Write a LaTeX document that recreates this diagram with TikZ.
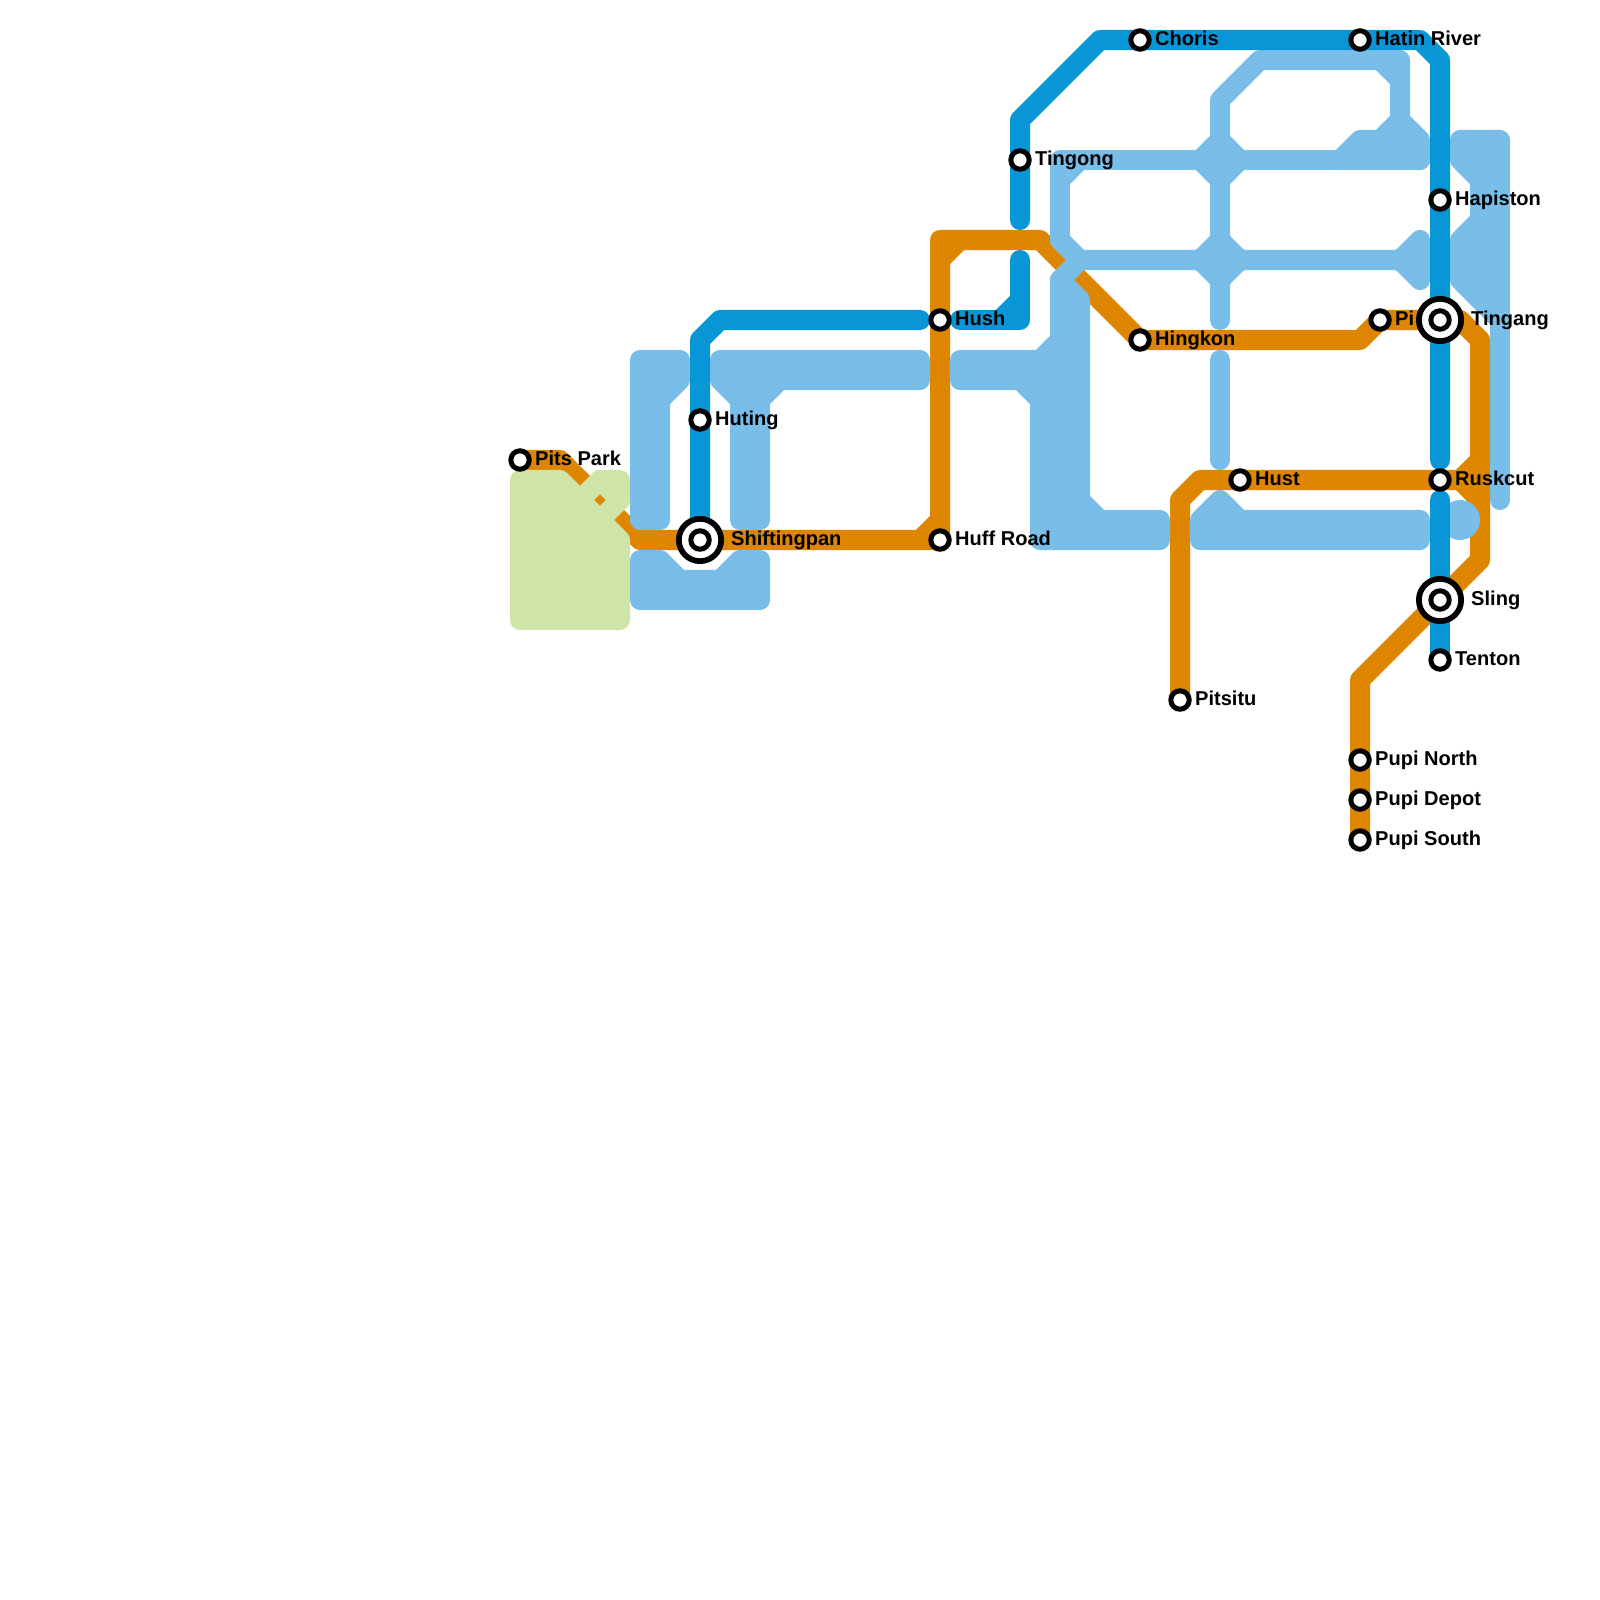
\documentclass[tikz,border=0pt]{standalone}
\usepackage{fontspec}
\setmainfont{Liberation Sans}
\usepackage{xcolor}
\usetikzlibrary{backgrounds}
\definecolor{orangeroute}{HTML}{DF8600}
\definecolor{blueroute}{HTML}{0896D7}
\definecolor{waterblue}{HTML}{79BDE9}
\definecolor{parkgreen}{HTML}{CFE4A7}
\tikzset{
  % Station styles
  station/.style={circle, draw=black, fill=white, line width=0.05cm, minimum size=0.184cm, inner sep=0pt},
  bigstation/.style={circle, draw=black, fill=white, line width=0.057cm, minimum size=0.423cm, inner sep=0pt},
  stoplabel/.style={anchor=base west, inner sep=0pt, xshift=0.145cm, yshift=-0.05cm, font=\fontsize{5.7pt}{6pt}\selectfont\bfseries},
  bigstoplabel/.style={stoplabel, xshift=0.16cm},
  % Route styles
  orangeline/.style={draw=orangeroute, line width=0.2cm, line cap=round, line join=round},
  blueline/.style={draw=blueroute, line width=0.2cm, line cap=round, line join=round},
  % Map area styles
  water/.style={draw=waterblue, line width=0.2cm, line cap=round, line join=round},
  waterarea/.style={water, fill=waterblue},
  park/.style={draw=parkgreen, line width=0.2cm, line cap=round, line join=round},
  parkarea/.style={park, fill=parkgreen},
}
\begin{document}
\begin{tikzpicture}[x=0.01cm, y=-0.01cm]
    \useasboundingbox (0,0) rectangle (1600,1600);

    % Stations on the west side
    \node[station] (pits) at (520,460) {};
    \node[stoplabel] (pitslabel) at (pits.center) {Pits Park};
    \node[station] (huting) at (700,420) {};
    \node[stoplabel] (hutinglabel) at (huting.center) {Huting};
    \node[bigstation] (shiftingpan) at (700,540) {};
    \node[station] (shiftingpancore) at (shiftingpan.center) {};
    \node[bigstoplabel] (shiftingpanlabel) at (shiftingpan.center) {Shiftingpan};

    % Stations in the middle
    \node[station] (hush) at (940,320) {};
    \node[stoplabel] (hushlabel) at (hush.center) {Hush};
    \node[station] (huffroad) at (940,540) {};
    \node[stoplabel] (huffroadlabel) at (huffroad.center) {Huff Road};
    \node[station] (tingong) at (1020,160) {};
    \node[stoplabel] (tingonglabel) at (tingong.center) {Tingong};
    \node[station] (choris) at (1140,40) {};
    \node[stoplabel] (chorislabel) at (choris.center) {Choris};
    \node[station] (hingkon) at (1140,340) {};
    \node[stoplabel] (hingkonlabel) at (hingkon.center) {Hingkon};
    \node[station] (pitsitu) at (1180,700) {};
    \node[stoplabel] (pitsitulabel) at (pitsitu.center) {Pitsitu};
    \node[station] (hust) at (1240,480) {};
    \node[stoplabel] (hustlabel) at (hust.center) {Hust};

    % Stations on the east side
    \node[station] (hatin) at (1360,40) {};
    \node[stoplabel] (hatinlabel) at (hatin.center) {Hatin River};
    \node[station] (hapiston) at (1440,200) {};
    \node[stoplabel] (hapistonlabel) at (hapiston.center) {Hapiston};
    \node[station] (pi) at (1380,320) {};
    \node[stoplabel] (pilabel) at (pi.center) {Pi};
    \node[bigstation] (tingang) at (1440,320) {};
    \node[station] (tingangcore) at (tingang.center) {};
    \node[bigstoplabel] (tinganglabel) at (tingang.center) {Tingang};
    \node[station] (ruskcut) at (1440,480) {};
    \node[stoplabel] (ruskcutlabel) at (ruskcut.center) {Ruskcut};
    \node[bigstation] (sling) at (1440,600) {};
    \node[station] (slingcore) at (sling.center) {};
    \node[bigstoplabel] (slinglabel) at (sling.center) {Sling};
    \node[station] (tenton) at (1440,660) {};
    \node[stoplabel] (tentonlabel) at (tenton.center) {Tenton};

    % Pupi branch
    \node[station] (pupinorth) at (1360,760) {};
    \node[stoplabel] (pupinorthlabel) at (pupinorth.center) {Pupi North};
    \node[station] (pupidepot) at (1360,800) {};
    \node[stoplabel] (pupidepotlabel) at (pupidepot.center) {Pupi Depot};
    \node[station] (pupisouth) at (1360,840) {};
    \node[stoplabel] (pupisouthlabel) at (pupisouth.center) {Pupi South};

    % Free ends of the blue routes
    \coordinate (tingongend) at (1020,220);
    \coordinate (hushstart) at (960,320);
    \coordinate (hushend) at (1020,260);
    \coordinate (hutingend) at (920,320);
    \coordinate (ruskcutnorth) at (1440,460);
    \coordinate (ruskcutsouth) at (1440,500);

\begin{scope}[on background layer]
    % === Orange routes ===
    \draw[orangeline] (pits.center) -- (560,460) -- (640,540) -- (shiftingpan.center) -- (huffroad.center)
      -- (hush.center) -- (940,240) -- (1040,240) -- (hingkon.center) -- (1360,340) -- (pi.center)
      -- (tingang.center) -- (1460,320) -- (1480,340) -- (1480,560) -- (sling.center) -- (1360,680)
      -- (pupinorth.center) -- (pupidepot.center) -- (pupisouth.center);
    \draw[orangeline] (pitsitu.center) -- (1180,500) -- (1200,480) -- (hust.center) -- (ruskcut.center) -- (1460,480) -- (1480,460);
    \draw[orangeline] (1460,480) -- (1480,500);
    % chamfers in the corners
    \draw[orangeline] (920,540) -- (940,520);
    \draw[orangeline] (940,260) -- (960,240);

    % === Park ===
    \path[parkarea] (520,480) -- (560,480) -- (620,540) -- (620,620) -- (520,620) -- cycle;
    \path[parkarea] (600,480) -- (620,480) -- (620,500) -- cycle;
    \draw[park] (580,500) -- (600,480);
    \draw[park] (620,500) -- (600,520);

    % === Water ===
    % west side
    \path[waterarea] (640,360) -- (680,360) -- (680,380) -- (660,400) -- (660,520) -- (640,520) -- cycle;
    \path[waterarea] (640,560) -- (660,560) -- (680,580) -- (720,580) -- (740,560) -- (760,560) -- (760,600) -- (640,600) -- cycle;
    \path[waterarea] (720,360) -- (920,360) -- (920,380) -- (780,380) -- (760,400) -- (760,520) -- (740,520) -- (740,400) -- (720,380) -- cycle;
    % middle
    \path[waterarea] (1060,280) -- (1080,300) -- (1080,500) -- (1100,520) -- (1160,520) -- (1160,540) -- (1040,540)
      -- (1040,400) -- (1020,380) -- (960,380) -- (960,360) -- (1040,360) -- (1060,340) -- cycle;
    \draw[water] (1060,280) -- (1080,260);
    % canals
    \draw[water] (1060,240) -- (1060,160) -- (1420,160);
    \draw[water] (1060,180) -- (1080,160);
    \draw[water] (1060,240) -- (1080,260) -- (1400,260);
    \draw[water] (1220,320) -- (1220,100) -- (1260,60) -- (1400,60) -- (1400,120);
    \draw[water] (1380,60) -- (1400,80);
    \draw[water] (1220,360) -- (1220,460);
    % basins on the canals
    \path[waterarea] (1200,160) -- (1220,140) -- (1240,160) -- (1220,180) -- cycle;
    \path[waterarea] (1200,260) -- (1220,240) -- (1240,260) -- (1220,280) -- cycle;
    \path[waterarea] (1400,120) -- (1420,140) -- (1420,160) -- (1340,160) -- (1360,140) -- (1380,140) -- cycle;
    \path[waterarea] (1400,260) -- (1420,240) -- (1420,280) -- cycle;
    % east side
    \path[waterarea] (1460,140) -- (1500,140) -- (1500,320) -- (1460,280) -- (1460,240) -- (1480,220) -- (1480,180) -- (1460,160) -- cycle;
    \draw[water] (1500,320) -- (1500,500);
    \path[waterarea] (1200,520) -- (1220,500) -- (1240,520) -- (1420,520) -- (1420,540) -- (1200,540) -- cycle;
    \fill[waterblue] (1460,520) circle (20);

    % === Blue routes ===
    \draw[blueline] (shiftingpan.center) -- (huting.center) -- (700,340) -- (720,320) -- (hutingend);
    \draw[blueline] (hushstart) -- (1020,320) -- (hushend);
    \draw[blueline] (1000,320) -- (1020,300);
    \draw[blueline] (tingongend) -- (tingong.center) -- (1020,120) -- (1100,40) -- (choris.center) -- (hatin.center)
      -- (1420,40) -- (1440,60) -- (hapiston.center) -- (tingang.center) -- (ruskcutnorth);
    \draw[blueline] (ruskcutsouth) -- (sling.center) -- (tenton.center);
\end{scope}
\end{tikzpicture}
\end{document}
